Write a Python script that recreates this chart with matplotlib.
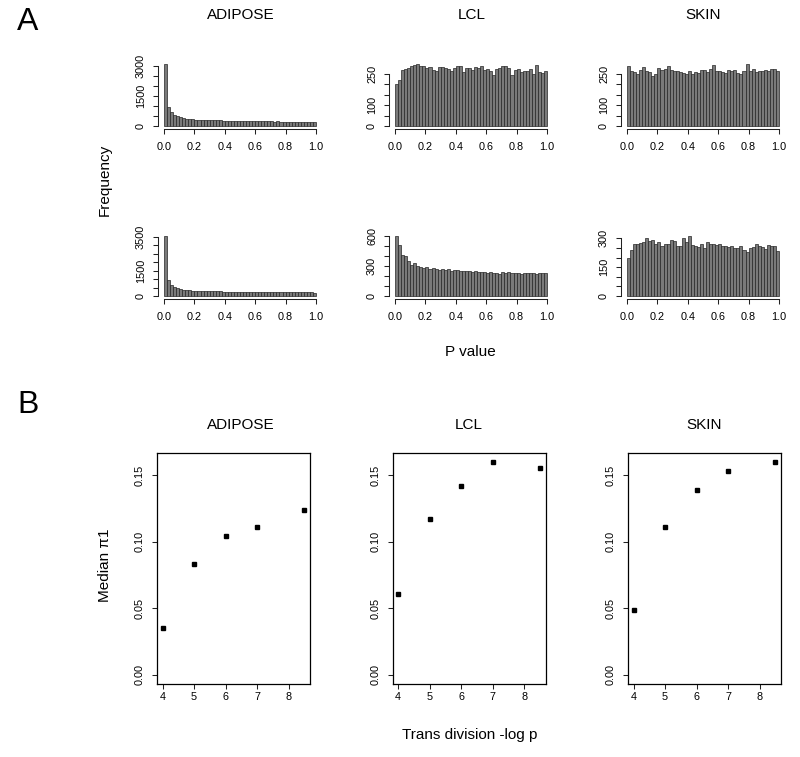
import numpy as np
import matplotlib
matplotlib.use('Agg')
import matplotlib.pyplot as plt

plt.rcParams['font.family'] = ['Liberation Sans', 'DejaVu Sans']

# ---- panel A: p value histograms (50 bins of width 0.02) ----
tissues = ['ADIPOSE', 'LCL', 'SKIN']

adipose_1 = [3080, 940, 690, 560, 490, 440, 400, 375, 355, 340,
             325, 315, 305, 300, 300, 290, 285, 282, 278, 275,
             272, 268, 262, 262, 258, 255, 250, 250, 246, 243,
             240, 238, 240, 232, 230, 228, 226, 230, 222, 220,
             218, 222, 215, 212, 210, 214, 208, 205, 203, 200]
lcl_1 = [200, 220, 266, 271, 278, 286, 291, 294, 288, 285,
         275, 281, 266, 261, 283, 283, 275, 271, 263, 278,
         288, 288, 258, 275, 275, 266, 281, 275, 285, 266,
         271, 265, 242, 271, 278, 285, 285, 275, 245, 266,
         271, 258, 263, 263, 271, 250, 291, 258, 255, 261]
skin_1 = [290, 265, 260, 250, 270, 285, 262, 260, 240, 250,
          278, 270, 275, 288, 268, 262, 265, 258, 255, 250,
          262, 250, 258, 255, 270, 268, 260, 275, 292, 265,
          262, 258, 252, 268, 262, 270, 256, 250, 262, 295,
          262, 275, 258, 266, 262, 270, 264, 275, 272, 262]
adipose_2 = [3540, 950, 640, 530, 470, 420, 385, 360, 340, 325,
             315, 305, 298, 292, 288, 285, 280, 276, 272, 268,
             265, 262, 258, 255, 252, 250, 248, 245, 243, 240,
             238, 236, 234, 232, 230, 228, 226, 225, 224, 222,
             221, 220, 222, 218, 216, 225, 214, 220, 212, 210]
lcl_2 = [605, 510, 410, 400, 350, 310, 333, 300, 290, 280,
         288, 275, 280, 270, 262, 272, 265, 268, 255, 260,
         258, 250, 252, 248, 255, 245, 250, 240, 245, 238,
         235, 240, 232, 228, 225, 238, 232, 240, 230, 236,
         228, 225, 232, 228, 236, 230, 225, 232, 230, 228]
skin_2 = [200, 240, 272, 268, 276, 280, 300, 285, 290, 270,
          278, 262, 272, 268, 292, 285, 258, 262, 300, 282,
          312, 265, 258, 255, 272, 250, 280, 268, 270, 265,
          272, 262, 260, 255, 262, 250, 248, 262, 240, 230,
          248, 252, 270, 262, 255, 242, 265, 258, 262, 232]
hist_rows = [[adipose_1, lcl_1, skin_1], [adipose_2, lcl_2, skin_2]]

# y ticks and which ones get a label
hist_yticks = [[(3001, 500, [0, 1500, 3000]), (251, 50, [0, 100, 250]), (251, 50, [0, 100, 250])],
               [(3501, 500, [0, 1500, 3500]), (601, 100, [0, 300, 600]), (301, 50, [0, 150, 300])]]

# ---- panel B: median pi1 against trans threshold ----
thresholds = [4, 5, 6, 7, 8.5]
pi1_adipose = [0.035, 0.083, 0.104, 0.111, 0.124]
pi1_lcl = [0.061, 0.117, 0.142, 0.160, 0.155]
pi1_skin = [0.049, 0.111, 0.139, 0.153, 0.160]
pi1 = [pi1_adipose, pi1_lcl, pi1_skin]

W, H = 800, 757
fig = plt.figure(figsize=(W / 100, H / 100), dpi=100)


def axes_px(x0, x1, y0, y1):
    return fig.add_axes([x0 / W, 1 - y1 / H, (x1 - x0) / W, (y1 - y0) / H])


def style_ticks(ax, xpad, ypad):
    ax.tick_params(direction='out', length=3.6, width=0.75, labelsize=7.8,
                   color='#222222')
    ax.tick_params(axis='x', pad=xpad)
    ax.tick_params(axis='y', pad=ypad)
    for lab in ax.get_yticklabels():
        lab.set_rotation(90)
        lab.set_va('center')


hist_x = [(158, 322), (389, 553), (621, 785)]
hist_y = [(62, 128.5), (233.5, 298.5)]
edges = np.linspace(0, 1, 51)

for r in range(2):
    for c in range(3):
        counts = hist_rows[r][c]
        ax = axes_px(hist_x[c][0], hist_x[c][1], hist_y[r][0], hist_y[r][1])
        ax.bar(edges[:-1], counts, width=0.02, align='edge',
               color='#7a7a7a', edgecolor='#262626', linewidth=0.5)
        m = max(counts)
        ax.set_xlim(-0.04, 1.04)
        ax.set_ylim(-0.04 * m, 1.04 * m)
        top, step, labelled = hist_yticks[r][c]
        yt = np.arange(0, top, step)
        ax.set_yticks(yt)
        ax.set_yticklabels([str(int(v)) if int(v) in labelled else '' for v in yt])
        ax.set_xticks(np.linspace(0, 1, 6))
        ax.set_xticklabels(['0.0', '0.2', '0.4', '0.6', '0.8', '1.0'])
        for s in ['top', 'right']:
            ax.spines[s].set_visible(False)
        ax.spines['left'].set_bounds(0, yt[-1])
        ax.spines['bottom'].set_bounds(0, 1)
        for s in ['left', 'bottom']:
            ax.spines[s].set_linewidth(0.75)
            ax.spines[s].set_color('#222222')
        ax.patch.set_alpha(0)
        style_ticks(ax, 6, 5)

sc_x = [(157, 310), (392.5, 545.5), (628, 781)]
for c in range(3):
    ax = axes_px(sc_x[c][0], sc_x[c][1], 453.3, 683.5)
    ax.plot(thresholds, pi1[c], 's', color='black', markersize=3.3)
    ax.set_xlim(4 - 0.18, 8.5 + 0.18)
    ax.set_ylim(-0.0064, 0.1664)
    ax.set_xticks([4, 5, 6, 7, 8])
    ax.set_yticks([0, 0.05, 0.10, 0.15])
    ax.set_yticklabels(['0.00', '0.05', '0.10', '0.15'])
    for s in ax.spines.values():
        s.set_linewidth(0.9)
    style_ticks(ax, 2.5, 5)

for x, t in zip([241, 472, 703], tissues):
    fig.text(x / W, 1 - 15 / H, t, ha='center', va='center', fontsize=11)
for x, t in zip([241, 469, 704], tissues):
    fig.text(x / W, 1 - 425 / H, t, ha='center', va='center', fontsize=11)

fig.text(28 / W, 1 - 22 / H, 'A', ha='center', va='center', fontsize=23)
fig.text(28 / W, 1 - 405 / H, 'B', ha='center', va='center', fontsize=23)
fig.text(105 / W, 1 - 180 / H, 'Frequency', ha='center', va='center',
         rotation=90, fontsize=11)
fig.text(470 / W, 1 - 352 / H, 'P value', ha='center', va='center', fontsize=11)
fig.text(105 / W, 1 - 565 / H, 'Median π1', ha='center', va='center',
         rotation=90, fontsize=11)
fig.text(470 / W, 1 - 735 / H, 'Trans division -log p', ha='center',
         va='center', fontsize=11)

fig.savefig('out.png', dpi=100)
